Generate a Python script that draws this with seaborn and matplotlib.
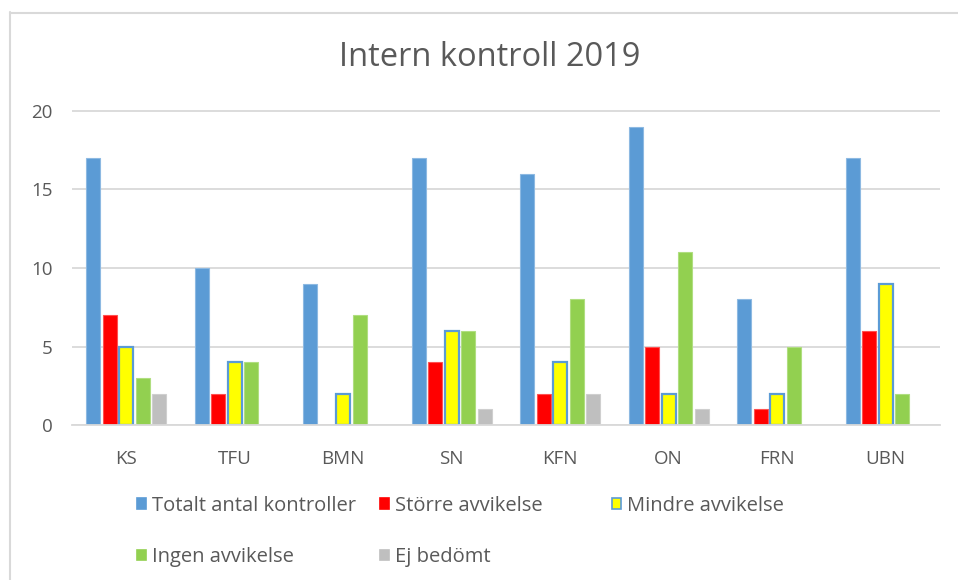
import matplotlib
matplotlib.use("Agg")
import matplotlib.pyplot as plt
import seaborn as sns
import pandas as pd
from matplotlib.patches import Patch
from matplotlib.lines import Line2D

categories = ["KS", "TFU", "BMN", "SN", "KFN", "ON", "FRN", "UBN"]
series_names = ["Totalt antal kontroller", "Större avvikelse", "Mindre avvikelse",
                "Ingen avvikelse", "Ej bedömt"]
totalt = [17, 10, 9, 17, 16, 19, 8, 17]
storre = [7, 2, 0, 4, 2, 5, 1, 6]
mindre = [5, 4, 2, 6, 4, 2, 2, 9]
ingen = [3, 4, 7, 6, 8, 11, 5, 2]
ej = [2, 0, 0, 1, 2, 1, 0, 0]
yticks = [0, 5, 10, 15, 20]
title = "Intern kontroll 2019"

colors = ["#5B9BD5", "#FF0000", "#FFFF00", "#92D050", "#BFBFBF"]
edges = ["#8DB9E2", "#FF5050", "#5B9BD5", "#B0DE80", "#CFCFCF"]

rows = []
for name, vals in zip(series_names, [totalt, storre, mindre, ingen, ej]):
    for c, v in zip(categories, vals):
        rows.append({"cat": c, "serie": name, "val": v})
df = pd.DataFrame(rows)

sns.set_theme(style="white")
plt.rcParams["font.family"] = ["Open Sans", "DejaVu Sans"]
text_color = "#595959"
grid_color = "#D9D9D9"

fig = plt.figure(figsize=(9.58, 5.8), dpi=100)
ax = fig.add_axes([72 / 958, 1 - 425 / 580, (940 - 72) / 958, (425 - 96) / 580])

sns.barplot(data=df, x="cat", y="val", hue="serie", order=categories,
            hue_order=series_names, palette=colors, width=0.76, gap=0.15,
            saturation=1, ax=ax, legend=False)

n = len(categories)
for i, patch in enumerate(ax.patches[: n * len(series_names)]):
    s = i // n
    patch.set_edgecolor(edges[s])
    patch.set_linewidth(1.6 if s == 2 else 0.8)

ax.set_ylim(0, 20 * (425 - 96) / (425 - 111))
ax.set_yticks(yticks)
ax.set_xlim(-0.5, n - 0.5)
ax.yaxis.grid(True, color=grid_color, linewidth=1.3)
ax.set_axisbelow(True)
for sp in ["top", "right", "left"]:
    ax.spines[sp].set_visible(False)
ax.spines["bottom"].set_color(grid_color)
ax.spines["bottom"].set_linewidth(1.3)
ax.tick_params(axis="both", length=0, colors=text_color, labelsize=13.5)
ax.tick_params(axis="y", pad=14)
ax.tick_params(axis="x", pad=18)
ax.set_xlabel("")
ax.set_ylabel("")

fig.text(490 / 958, 1 - 66 / 580, title, ha="center", va="baseline",
         fontsize=23.5, color=text_color)

fig.add_artist(Line2D([10 / 958, 10 / 958], [0, 1 - 12 / 580], color=grid_color,
                      linewidth=1.5, transform=fig.transFigure))
fig.add_artist(Line2D([10 / 958, 1], [1 - 13 / 580, 1 - 13 / 580], color=grid_color,
                      linewidth=1.5, transform=fig.transFigure))

def handle(i):
    return Patch(facecolor=colors[i], edgecolor=edges[i] if i == 2 else colors[i],
                 linewidth=1.2)

cols = [([0, 3], 137), ([1, 4], 380), ([2], 612)]
for idx, x in cols:
    leg = fig.legend([handle(i) for i in idx], [series_names[i] for i in idx],
                     loc="upper left", bbox_to_anchor=(x / 958, 1 - 496 / 580),
                     frameon=False, fontsize=14.5, handlelength=0.45,
                     handleheight=0.45, handletextpad=0.3, labelspacing=1.55,
                     borderaxespad=0, borderpad=0)
    for t in leg.get_texts():
        t.set_color(text_color)

fig.savefig("out.png", dpi=100, facecolor="white")
